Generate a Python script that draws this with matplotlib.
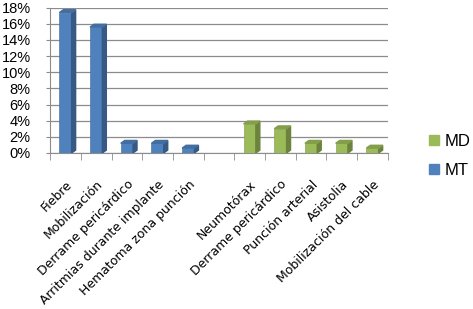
import numpy as np
import matplotlib
matplotlib.use('Agg')
import matplotlib.pyplot as plt
from matplotlib.patches import Polygon, Patch

plt.rcParams['font.family'] = ['Liberation Sans', 'DejaVu Sans']

# data (percent)
labels = ['Fiebre', 'Mobilización', 'Derrame pericárdico', 'Arritmias durante implante',
          'Hematoma zona punción', '', 'Neumotórax', 'Derrame pericárdico',
          'Punción arterial', 'Asistolia', 'Mobilización del cable']
mt_vals = [17.4, 15.6, 1.2, 1.2, 0.6]
md_vals = [3.6, 3.0, 1.2, 1.2, 0.6]
yticks = [0, 2, 4, 6, 8, 10, 12, 14, 16, 18]

c_mt = '#4F81BD'
c_md = '#9BBB59'

def darker(c, f):
    c = matplotlib.colors.to_rgb(c)
    return tuple(x * f for x in c)

fig = plt.figure(figsize=(4.73, 3.09), dpi=100)
ax = fig.add_axes([0.106, 0.505, 0.714, 0.47])

x_mt = np.arange(len(mt_vals))
x_md = np.arange(len(md_vals)) + 6
w = 0.4
dx, dy = 0.13, 0.35

def bars3d(xs, vals, col):
    ax.bar(xs, vals, width=w, color=col, edgecolor=darker(col, 0.8), linewidth=0.4, zorder=3)
    for x, v in zip(xs, vals):
        r = x + w / 2
        l = x - w / 2
        side = Polygon([(r, 0), (r + dx, dy), (r + dx, v + dy), (r, v)],
                       closed=True, color=darker(col, 0.7), zorder=3)
        top = Polygon([(l, v), (r, v), (r + dx, v + dy), (l + dx, v + dy)],
                      closed=True, color=darker(col, 0.85), zorder=3)
        ax.add_patch(side)
        ax.add_patch(top)

bars3d(x_mt, mt_vals, c_mt)
bars3d(x_md, md_vals, c_md)

ax.set_xlim(-0.5, len(labels) - 0.5)
ax.set_ylim(0, 18)
ax.set_yticks(yticks)
ax.set_yticklabels(['%d%%' % t for t in yticks], fontsize=10.5)
ax.yaxis.grid(True, color='#8c8c8c', linewidth=0.9, zorder=0)
ax.set_axisbelow(True)

ax.set_xticks(np.arange(len(labels)))
ax.set_xticklabels(labels, rotation=45, ha='right', rotation_mode='anchor',
                   fontsize=9.0, family='DejaVu Sans')
ax.tick_params(axis='x', which='major', length=0, pad=18)
ax.set_xticks(np.arange(len(labels) + 1) - 0.5, minor=True)
ax.tick_params(axis='x', which='minor', length=5, color='#8c8c8c')
ax.tick_params(axis='y', length=3, color='#8c8c8c', pad=11)

for s in ['top', 'right']:
    ax.spines[s].set_visible(False)
for s in ['left', 'bottom']:
    ax.spines[s].set_color('#8c8c8c')

handles = [Patch(color=c_md, label='MD'), Patch(color=c_mt, label='MT')]
fig.legend(handles=handles, loc='center left', bbox_to_anchor=(0.876, 0.495),
           frameon=False, fontsize=12, handlelength=0.55, handleheight=0.55,
           handletextpad=0.35, labelspacing=0.85)

fig.savefig('out.png', dpi=100)
